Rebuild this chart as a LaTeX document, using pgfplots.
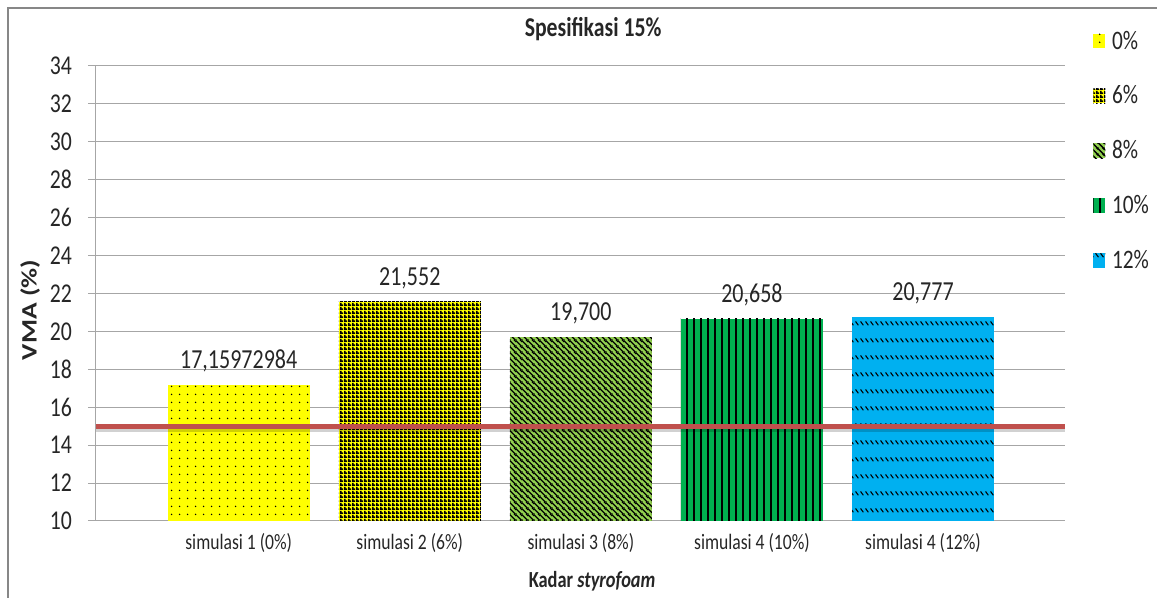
\documentclass[border=0pt]{standalone}
\usepackage{fontspec}
\setmainfont{Carlito}
\usepackage{graphicx}
\usepackage{pgfplots}
\pgfplotsset{compat=1.18}
\usetikzlibrary{patterns}

\definecolor{gridgray}{HTML}{A6A6A6}
\definecolor{framegray}{HTML}{878787}
\definecolor{cyellow}{HTML}{FFFF00}
\definecolor{clime}{HTML}{92D050}
\definecolor{cgreen}{HTML}{00B050}
\definecolor{cblue}{HTML}{00B0F0}
\definecolor{redline}{HTML}{C0504D}
\definecolor{txt}{HTML}{262626}

% text in the reference is stretched upward
\newcommand\tall[1]{\scalebox{1}[1.25]{#1}}
\newcommand\wide[1]{\scalebox{1.25}[1]{#1}}

% patterns
\pgfdeclarepatternformonly{pdots}{\pgfpointorigin}{\pgfpoint{6pt}{6pt}}{\pgfpoint{6pt}{6pt}}{%
  \pgfpathcircle{\pgfpoint{3pt}{3pt}}{0.65pt}%
  \pgfusepath{fill}}
\pgfdeclarepatternformonly{pgrid}{\pgfpointorigin}{\pgfpoint{2.6pt}{2.6pt}}{\pgfpoint{2.6pt}{2.6pt}}{%
  \pgfpathrectangle{\pgfpointorigin}{\pgfpoint{2.6pt}{1.35pt}}%
  \pgfpathrectangle{\pgfpointorigin}{\pgfpoint{1.35pt}{2.6pt}}%
  \pgfusepath{fill}}
\pgfdeclarepatternformonly{pdiag}{\pgfpointorigin}{\pgfpoint{4.5pt}{4.5pt}}{\pgfpoint{4.5pt}{4.5pt}}{%
  \pgfsetlinewidth{1.1pt}%
  \pgfpathmoveto{\pgfpoint{-1pt}{5.5pt}}\pgfpathlineto{\pgfpoint{5.5pt}{-1pt}}%
  \pgfpathmoveto{\pgfpoint{-1pt}{1pt}}\pgfpathlineto{\pgfpoint{1pt}{-1pt}}%
  \pgfpathmoveto{\pgfpoint{3.5pt}{5.5pt}}\pgfpathlineto{\pgfpoint{5.5pt}{3.5pt}}%
  \pgfusepath{stroke}}
\pgfdeclarepatternformonly{pvert}{\pgfpointorigin}{\pgfpoint{5.25pt}{1pt}}{\pgfpoint{5.25pt}{1pt}}{%
  \pgfpathrectangle{\pgfpointorigin}{\pgfpoint{1.5pt}{1pt}}%
  \pgfusepath{fill}}
\pgfdeclarepatternformonly{pdash}{\pgfpointorigin}{\pgfpoint{3.75pt}{12.75pt}}{\pgfpoint{3.75pt}{12.75pt}}{%
  \pgfsetlinewidth{0.9pt}%
  \pgfpathmoveto{\pgfpoint{0.5pt}{3.6pt}}\pgfpathlineto{\pgfpoint{3pt}{0.6pt}}%
  \pgfusepath{stroke}}

\pgfplotsset{
  barstyle/.style={
    ybar, bar width=106.5pt, bar shift=0pt, draw=none,
    point meta=explicit symbolic,
    nodes near coords={\tall{\pgfplotspointmeta}},
    nodes near coords style={font=\fontsize{16.5}{18}\selectfont, text=txt,
      anchor=base, inner sep=0pt, yshift=12.5pt},
  },
}

\begin{document}
\begin{tikzpicture}
\useasboundingbox (0,0) rectangle (867.75pt,448.5pt);
\draw[framegray, line width=1.5pt] (6pt,0) -- (6pt,442.5pt) -- (870pt,442.5pt);
\begin{axis}[
  at={(72pt,57.75pt)}, anchor=south west,
  width=726.75pt, height=341.25pt, scale only axis,
  xmin=-0.834, xmax=4.83,
  ymin=10, ymax=34,
  ytick={10,12,...,34},
  xtick={0,1,2,3,4},
  xticklabels={\tall{simulasi 1 (0\%)},\tall{simulasi 2 (6\%)},\tall{simulasi 3 (8\%)},\tall{simulasi 4 (10\%)},\tall{simulasi 4 (12\%)}},
  yticklabel={\tall{\pgfmathprintnumber[assume math mode=true]{\tick}}},
  ymajorgrids=true,
  grid style={gridgray, line width=0.75pt},
  axis x line*=bottom, axis y line*=left,
  axis line style={gridgray, line width=0.75pt},
  tick align=outside, major tick length=6pt,
  y tick style={gridgray, line width=0.75pt},
  x tick style={draw=none},
  yticklabel style={font=\fontsize{16.3}{18}\selectfont, text=txt, xshift=-8.5pt},
  xticklabel style={font=\fontsize{13.2}{15}\selectfont, text=txt, yshift=0pt},
  title={\tall{Spesifikasi 15\%}},
  title style={font=\bfseries\fontsize{16.3}{18}\selectfont, text=txt, at={(0.513,1.063)}, anchor=center},
  xlabel={\tall{Kadar \textit{styrofoam}}},
  xlabel style={font=\bfseries\fontsize{13.8}{15}\selectfont, text=txt, at={(0.512,-0.133)}, anchor=center},
  ylabel={\wide{VMA (\%)}},
  ylabel style={font=\bfseries\fontsize{16.5}{18}\selectfont, text=txt, at={(-0.068,0.464)}, anchor=center, rotate=0},
  legend style={draw=none, fill=none, at={(1.029,1.0835)}, anchor=north west,
    font=\fontsize{16}{18}\selectfont, text=txt, row sep=22pt, inner sep=0pt,
    nodes={inner sep=2pt}},
  legend cell align=left,
  legend image code/.code={\path[#1, draw=none] (0pt,-5.5pt) rectangle (9pt,5.5pt);},
]
\addplot[barstyle, fill=cyellow, postaction={pattern=pdots}]
  coordinates {(0,17.15972984) [17,15972984]};
\addplot[barstyle, fill=cyellow, postaction={pattern=pgrid}]
  coordinates {(1,21.552) [21,552]};
\addplot[barstyle, fill=clime, postaction={pattern=pdiag}]
  coordinates {(2,19.700) [19,700]};
\addplot[barstyle, fill=cgreen, postaction={pattern=pvert}]
  coordinates {(3,20.658) [20,658]};
\addplot[barstyle, fill=cblue, postaction={pattern=pdash}]
  coordinates {(4,20.777) [20,777]};
\addplot[draw=black, opacity=0.18, line width=4pt, yshift=-2.5pt, forget plot]
  coordinates {(-0.834,15) (4.83,15)};
\addplot[draw=redline, line width=3.75pt, forget plot]
  coordinates {(-0.834,15) (4.83,15)};
\legend{\hspace{3pt}\tall{0\%},\hspace{3pt}\tall{6\%},\hspace{3pt}\tall{8\%},\hspace{3pt}\tall{10\%},\hspace{3pt}\tall{12\%}}
\end{axis}
\end{tikzpicture}
\end{document}
